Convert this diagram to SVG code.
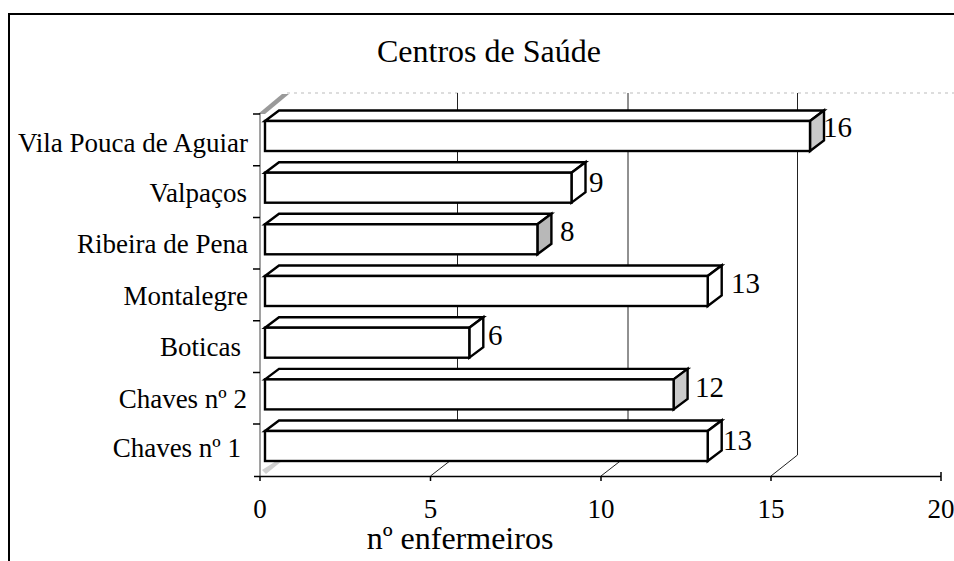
<svg xmlns="http://www.w3.org/2000/svg" width="954" height="561" viewBox="0 0 954 561">
<style>
  text { font-family: "Liberation Serif", "Times New Roman", serif; fill: #000; }
  .cat { font-size: 27px; text-anchor: end; }
  .val { font-size: 29px; }
  .tick { font-size: 27px; text-anchor: middle; }
  .bar { stroke: #000; stroke-width: 2.4; stroke-linejoin: miter; }
  .front { fill: #fff; }
  .top { fill: #fff; }
  .side { fill: #fff; }
  .shade { fill: #cacaca; }
  .shade2 { fill: #b8b8b8; }
  .grid { stroke: #222; stroke-width: 1; fill: none; }
  .axis { stroke: #000; stroke-width: 1.5; fill: none; }
</style>
<rect x="0" y="0" width="954" height="561" fill="#fff"/>
<path d="M9,561 V14 H954" fill="none" stroke="#000" stroke-width="2"/>

<text x="489" y="62" style="font-size:32px" text-anchor="middle">Centros de Saúde</text>

<g id="walls">
  <line x1="287" y1="93" x2="954" y2="93" stroke="#bbb" stroke-width="1" stroke-dasharray="3 4"/>
  <line class="grid" x1="457.5" y1="93" x2="457.5" y2="455"/>
  <line class="grid" x1="628" y1="93" x2="628" y2="455"/>
  <line class="grid" x1="797.5" y1="93" x2="797.5" y2="455"/>
  <line class="grid" x1="430.5" y1="476" x2="457.5" y2="455"/>
  <line class="grid" x1="601" y1="476" x2="628" y2="455"/>
  <line class="grid" x1="771" y1="476" x2="797.5" y2="455"/>
  <polygon points="258,114 282,94 289,94 265,114" fill="#9a9a9a"/>
  <polygon points="262,470 284,456 288,456 266,474" fill="#d0d0d0"/>
  <line x1="260" y1="113" x2="260" y2="476" stroke="#444" stroke-width="1"/>
  <path class="axis" d="M253,114H260 M253,165.7H260 M253,217.4H260 M253,269H260 M253,320.7H260 M253,372.4H260 M253,424H260"/>
  <line class="axis" x1="254" y1="476.5" x2="941" y2="476.5"/>
  <path class="axis" d="M260,476V481 M430.5,476V481 M601,476V481 M771,476V481 M941,472V481"/>
</g>

<g id="axis-labels">
  <text class="tick" x="260" y="518">0</text>
  <text class="tick" x="430.5" y="518">5</text>
  <text class="tick" x="601" y="518">10</text>
  <text class="tick" x="771" y="518">15</text>
  <text class="tick" x="941" y="518">20</text>
  <text x="460" y="549" style="font-size:32px" text-anchor="middle">nº enfermeiros</text>
</g>

<g id="bar-vila-pouca">
  <text class="cat" x="248" y="152">Vila Pouca de Aguiar</text>
  <polygon class="bar top" points="265,121 279,110.5 824,110.5 810,121"/>
  <polygon class="bar shade" points="810,121 824,110.5 824,140.5 810,151"/>
  <rect class="bar front" x="265" y="121" width="545" height="30"/>
  <text class="val" x="823" y="137">16</text>
</g>

<g id="bar-valpacos">
  <text class="cat" x="247" y="202">Valpaços</text>
  <polygon class="bar top" points="265,172.7 279,162.2 585.5,162.2 571.5,172.7"/>
  <polygon class="bar side" points="571.5,172.7 585.5,162.2 585.5,192.2 571.5,202.7"/>
  <rect class="bar front" x="265" y="172.7" width="306.5" height="30"/>
  <text class="val" x="589" y="192">9</text>
</g>

<g id="bar-ribeira">
  <text class="cat" x="248" y="253">Ribeira de Pena</text>
  <polygon class="bar top" points="265,224.3 279,213.8 551.4,213.8 537.4,224.3"/>
  <polygon class="bar shade2" points="537.4,224.3 551.4,213.8 551.4,243.8 537.4,254.3"/>
  <rect class="bar front" x="265" y="224.3" width="272.4" height="30"/>
  <text class="val" x="560" y="241">8</text>
</g>

<g id="bar-montalegre">
  <text class="cat" x="248" y="305">Montalegre</text>
  <polygon class="bar top" points="265,276 279,265.5 721.7,265.5 707.7,276"/>
  <polygon class="bar side" points="707.7,276 721.7,265.5 721.7,295.5 707.7,306"/>
  <rect class="bar front" x="265" y="276" width="442.7" height="30"/>
  <text class="val" x="731" y="293">13</text>
</g>

<g id="bar-boticas">
  <text class="cat" x="241" y="356">Boticas</text>
  <polygon class="bar top" points="265,327.7 279,317.2 483.3,317.2 469.3,327.7"/>
  <polygon class="bar side" points="469.3,327.7 483.3,317.2 483.3,347.2 469.3,357.7"/>
  <rect class="bar front" x="265" y="327.7" width="204.3" height="30"/>
  <text class="val" x="488" y="345">6</text>
</g>

<g id="bar-chaves2">
  <text class="cat" x="247" y="408">Chaves nº 2</text>
  <polygon class="bar top" points="265,379.4 279,368.9 687.6,368.9 673.6,379.4"/>
  <polygon class="bar shade" points="673.6,379.4 687.6,368.9 687.6,398.9 673.6,409.4"/>
  <rect class="bar front" x="265" y="379.4" width="408.6" height="30"/>
  <text class="val" x="695" y="397">12</text>
</g>

<g id="bar-chaves1">
  <text class="cat" x="241" y="457">Chaves nº 1</text>
  <polygon class="bar top" points="265,431 279,420.5 721.7,420.5 707.7,431"/>
  <polygon class="bar side" points="707.7,431 721.7,420.5 721.7,450.5 707.7,461"/>
  <rect class="bar front" x="265" y="431" width="442.7" height="30"/>
  <text class="val" x="723" y="450">13</text>
</g>
</svg>
